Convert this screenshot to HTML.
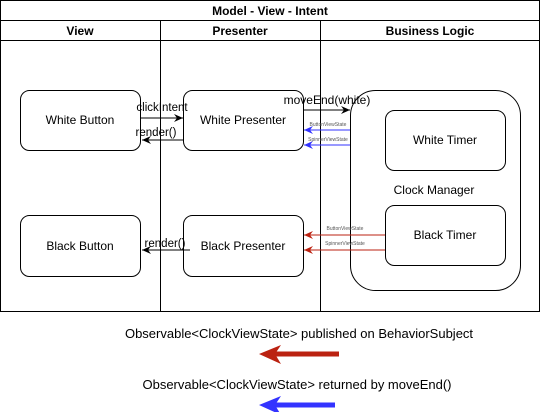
<!DOCTYPE html>
<html><head><style>body{margin:0;background:#fff}</style></head><body>
<svg width="541" height="412" xmlns="http://www.w3.org/2000/svg" font-family="Liberation Sans, sans-serif">
<defs>
<marker id="ab" markerWidth="10" markerHeight="10" refX="9" refY="5" orient="auto" markerUnits="userSpaceOnUse"><path d="M0,1 L9,5 L0,9 L3,5z" fill="#000"/></marker>
<marker id="abl" markerWidth="10" markerHeight="10" refX="9" refY="5" orient="auto" markerUnits="userSpaceOnUse"><path d="M0,1 L9,5 L0,9 L3,5z" fill="#3333ff"/></marker>
<marker id="ar" markerWidth="10" markerHeight="10" refX="9" refY="5" orient="auto" markerUnits="userSpaceOnUse"><path d="M0,1 L9,5 L0,9 L3,5z" fill="#bb2211"/></marker>
</defs>
<g fill="none" stroke="#000" stroke-width="1">
<rect x="0.5" y="0.5" width="539" height="311"/>
<line x1="0" y1="20.5" x2="540" y2="20.5"/>
<line x1="0" y1="40.5" x2="540" y2="40.5"/>
<line x1="160.5" y1="20" x2="160.5" y2="312"/>
<line x1="320.5" y1="20" x2="320.5" y2="312"/>
<rect x="20.5" y="90.5" width="120" height="60" rx="9"/>
<rect x="20.5" y="215.5" width="120" height="61" rx="9"/>
<rect x="183.5" y="90.5" width="120" height="60" rx="9"/>
<rect x="183.5" y="215.5" width="120" height="61" rx="9"/>
<rect x="350.5" y="90.5" width="170" height="200" rx="25"/>
<rect x="385.5" y="110.5" width="120" height="60" rx="9"/>
<rect x="385.5" y="205.5" width="120" height="60" rx="9"/>
<line x1="141" y1="118" x2="183" y2="118" marker-end="url(#ab)"/>
<line x1="183" y1="140" x2="142" y2="140" marker-end="url(#ab)"/>
<line x1="303" y1="110" x2="350" y2="110" marker-end="url(#ab)"/>
<line x1="190" y1="250" x2="142" y2="250" marker-end="url(#ab)"/>
</g>
<g fill="none" stroke-width="1">
<line x1="350" y1="130" x2="304" y2="130" stroke="#3333ff" marker-end="url(#abl)"/>
<line x1="350" y1="145" x2="304" y2="145" stroke="#3333ff" marker-end="url(#abl)"/>
<line x1="385" y1="235" x2="304" y2="235" stroke="#bb2211" marker-end="url(#ar)"/>
<line x1="385" y1="250" x2="304" y2="250" stroke="#bb2211" marker-end="url(#ar)"/>
</g>
<g font-size="12" text-anchor="middle" fill="#000">
<text x="270" y="15" font-weight="bold">Model - View - Intent</text>
<text x="80" y="35" font-weight="bold">View</text>
<text x="240" y="35" font-weight="bold">Presenter</text>
<text x="430" y="35" font-weight="bold">Business Logic</text>
<text x="80" y="124">White Button</text>
<text x="80" y="250">Black Button</text>
<text x="243" y="124">White Presenter</text>
<text x="243" y="250">Black Presenter</text>
<text x="445" y="144">White Timer</text>
<text x="445" y="239">Black Timer</text>
<text x="434" y="194">Clock Manager</text>
<text x="162" y="111" font-size="11.5">clickIntent</text>
<text x="156" y="136" font-size="11.5">render()</text>
<text x="165" y="247" font-size="11.5">render()</text>
<text x="327" y="104" font-size="12">moveEnd(white)</text>
<text x="299" y="338" font-size="13">Observable&lt;ClockViewState&gt; published on BehaviorSubject</text>
<text x="297" y="389" font-size="13">Observable&lt;ClockViewState&gt; returned by moveEnd()</text>
</g>
<g font-size="5" fill="#555" text-anchor="middle">
<text x="328" y="126">ButtonViewState</text>
<text x="328" y="141">SpinnerViewState</text>
<text x="345" y="230">ButtonViewState</text>
<text x="345" y="245">SpinnerViewState</text>
</g>
<line x1="339" y1="354" x2="272" y2="354" stroke="#bb2211" stroke-width="5"/>
<path d="M259,354 L281,345 L275,354 L281,364z" fill="#bb2211"/>
<line x1="335" y1="405" x2="272" y2="405" stroke="#3333ff" stroke-width="5"/>
<path d="M259,405 L281,396 L275,405 L281,415z" fill="#3333ff"/>
</svg>
</body></html>
